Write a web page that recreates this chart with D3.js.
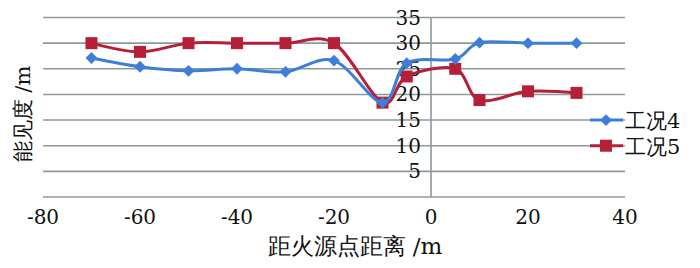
<!DOCTYPE html>
<html>
<head>
<meta charset="utf-8">
<script src="https://cdn.jsdelivr.net/npm/d3@7"></script>
<style>
  body { margin: 0; background: #fff; }
</style>
</head>
<body>
<div id="chart"></div>
<script>
const distances4 = [-70, -60, -50, -40, -30, -20, -10, -5, 5, 10, 20, 30];
const visibility4 = [27.1, 25.4, 24.6, 25, 24.4, 26.6, 18.4, 26.1, 26.9, 30.1, 30, 30];
const distances5 = [-70, -60, -50, -40, -30, -20, -10, -5, 5, 10, 20, 30];
const visibility5 = [30, 28.3, 30, 30, 30, 30, 18.4, 23.5, 25, 18.9, 20.6, 20.3];
const xTicks = [-80, -60, -40, -20, 0, 20, 40];
const yTicks = [5, 10, 15, 20, 25, 30, 35];
const seriesNames = ["工况4", "工况5"];

const width = 700, height = 268;
const blue = "#3d7fd8", red = "#b51f37", grid = "#8c9a97";
const serif = "'DejaVu Serif', serif";

const svg = d3.select("#chart").append("svg")
    .attr("width", width)
    .attr("height", height)
    .style("font-family", serif);

const x = d3.scaleLinear().domain([-80, 40]).range([43, 625]);
const y = d3.scaleLinear().domain([0, 35]).range([197, 17.5]);

// horizontal grid
svg.append("g")
    .selectAll("line")
    .data([0].concat(yTicks))
    .enter()
    .append("line")
    .attr("x1", x(-80))
    .attr("x2", x(40))
    .attr("y1", d => y(d))
    .attr("y2", d => y(d))
    .attr("stroke", grid)
    .attr("stroke-width", 1.6);

// vertical axis at 0
svg.append("line")
    .attr("x1", x(0)).attr("x2", x(0))
    .attr("y1", y(35)).attr("y2", y(0))
    .attr("stroke", grid)
    .attr("stroke-width", 1.6);

// y tick labels, next to the zero axis
svg.append("g")
    .selectAll("text")
    .data(yTicks)
    .enter()
    .append("text")
    .attr("x", x(0) - 10)
    .attr("y", d => y(d) + 7)
    .attr("text-anchor", "end")
    .attr("font-size", 20)
    .attr("fill", "#111")
    .text(d => d);

// x tick labels
svg.append("g")
    .selectAll("text")
    .data(xTicks)
    .enter()
    .append("text")
    .attr("x", d => x(d))
    .attr("y", 224)
    .attr("text-anchor", "middle")
    .attr("font-size", 20)
    .attr("fill", "#111")
    .text(d => d);

// axis titles
svg.append("text")
    .attr("x", 355)
    .attr("y", 254)
    .attr("text-anchor", "middle")
    .attr("font-size", 23)
    .attr("fill", "#111")
    .text("距火源点距离 /m");

svg.append("text")
    .attr("transform", "translate(30,114) rotate(-90)")
    .attr("text-anchor", "middle")
    .attr("font-size", 21)
    .attr("fill", "#111")
    .text("能见度 /m");

const line = d3.line()
    .x(d => x(d[0]))
    .y(d => y(d[1]))
    .curve(d3.curveCatmullRom.alpha(0));

const series = [
    { name: seriesNames[0], pts: d3.zip(distances4, visibility4), color: blue, shape: "diamond" },
    { name: seriesNames[1], pts: d3.zip(distances5, visibility5), color: red, shape: "square" }
];

const diamond = d3.symbol().type(d3.symbolDiamond2).size(90);

function drawMarker(g, cx, cy, s) {
    if (s.shape === "diamond") {
        g.append("path")
            .attr("d", diamond())
            .attr("transform", `translate(${cx},${cy})`)
            .attr("fill", s.color);
    } else {
        g.append("rect")
            .attr("x", cx - 6).attr("y", cy - 6)
            .attr("width", 12).attr("height", 12)
            .attr("fill", s.color);
    }
}

// red first so blue sits on top where they cross
[series[1], series[0]].forEach(s => {
    svg.append("path")
        .datum(s.pts)
        .attr("d", line)
        .attr("fill", "none")
        .attr("stroke", s.color)
        .attr("stroke-width", 3);
    const g = svg.append("g");
    s.pts.forEach(p => drawMarker(g, x(p[0]), y(p[1]), s));
});

// legend
const legendY = [y(15), y(10)];
series.forEach((s, i) => {
    const g = svg.append("g");
    g.append("line")
        .attr("x1", 590).attr("x2", 623)
        .attr("y1", legendY[i]).attr("y2", legendY[i])
        .attr("stroke", s.color)
        .attr("stroke-width", 3);
    drawMarker(g, 606, legendY[i], s);
    g.append("text")
        .attr("x", 625)
        .attr("y", legendY[i] + 8)
        .attr("font-size", 21)
        .attr("fill", "#111")
        .text(s.name);
});
</script>
</body>
</html>
